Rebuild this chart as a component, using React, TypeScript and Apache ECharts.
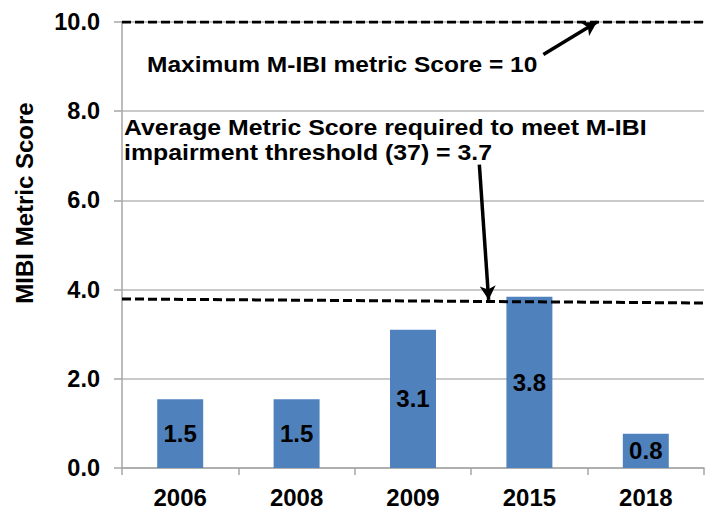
import React, { useEffect, useRef } from "react";
import * as echarts from "echarts";

const years = ["2006", "2008", "2009", "2015", "2018"];
const scores = [1.54, 1.54, 3.1, 3.84, 0.77];
const yTicks = { min: 0, max: 10, interval: 2 };
// reference lines in [x (0..5 across plot), y] data space
const maxLine = [[0, 10], [5, 10]];
const thresholdLine = [[0, 3.79], [5, 3.7]];
const arrowMax = [[3.62, 9.27], [4.08, 10.0]];
const arrowThreshold = [[3.07, 6.8], [3.15, 3.77]];
const maxText = "Maximum M-IBI metric Score = 10";
const thresholdLine1 = "Average Metric Score required to meet M-IBI";
const thresholdLine2 = "impairment threshold (37) = 3.7";
const yName = "MIBI Metric Score";

const FONT = "'Liberation Sans', Arial, sans-serif";

export default function App() {
  const ref = useRef<HTMLDivElement>(null);
  useEffect(() => {
    if (!ref.current) return;
    const chart = echarts.init(ref.current, null, { renderer: "svg" });
    const dashed = { color: "#000", width: 3, type: [9, 4] as any };
    const txt = (text: string, x: number, y: number, size: number, scaleX = 1) => ({
      type: "text",
      x,
      y,
      scaleX,
      style: {
        text,
        fill: "#000",
        font: `bold ${size}px ${FONT}`,
        align: "left",
        verticalAlign: "middle",
      },
    });
    chart.setOption({
      animation: false,
      backgroundColor: "#fff",
      grid: { left: 122, right: 5, top: 22, bottom: 42, containLabel: false },
      xAxis: [
        {
          type: "category",
          data: years,
          axisLine: { lineStyle: { color: "#A6A6A6", width: 1.5 } },
          axisTick: { show: true, length: 7, lineStyle: { color: "#A6A6A6", width: 1.5 } },
          axisLabel: { color: "#000", fontFamily: FONT, fontWeight: "bold", fontSize: 24, margin: 17 },
        },
        { type: "value", min: 0, max: 5, show: false },
      ],
      yAxis: {
        type: "value",
        min: yTicks.min,
        max: yTicks.max,
        interval: yTicks.interval,
        axisLine: { show: true, lineStyle: { color: "#A6A6A6", width: 1.5 } },
        axisTick: { show: true, length: 8, inside: false, lineStyle: { color: "#A6A6A6", width: 1.5 } },
        splitLine: { lineStyle: { color: "#B8B8B8", width: 1.5 } },
        axisLabel: {
          color: "#000",
          fontFamily: FONT,
          fontWeight: "bold",
          fontSize: 23.5,
          margin: 22,
          formatter: (v: number) => v.toFixed(1),
        },
      },
      series: [
        {
          type: "bar",
          data: scores,
          barWidth: "39.5%",
          itemStyle: { color: "#4F81BD" },
          label: {
            show: true,
            position: "inside",
            color: "#000",
            fontFamily: FONT,
            fontWeight: "bold",
            fontSize: 24,
            formatter: (p: any) => Number(p.value).toFixed(1),
          },
        },
        {
          type: "line",
          xAxisIndex: 1,
          data: maxLine,
          symbol: "none",
          lineStyle: dashed,
          silent: true,
          z: 5,
        },
        {
          type: "line",
          xAxisIndex: 1,
          data: thresholdLine,
          symbol: "none",
          lineStyle: dashed,
          silent: true,
          z: 5,
          markLine: {
            silent: true,
            symbol: ["none", "arrow"],
            symbolSize: [12, 14],
            label: { show: false },
            lineStyle: { color: "#000", width: 3.5, type: "solid" },
            data: [
              [{ coord: arrowMax[0] }, { coord: arrowMax[1] }],
              [{ coord: arrowThreshold[0] }, { coord: arrowThreshold[1] }],
            ],
          },
        },
      ],
      graphic: [
        {
          type: "text",
          x: 24,
          y: 203,
          rotation: Math.PI / 2,
          style: {
            text: yName,
            fill: "#000",
            font: `bold 24px ${FONT}`,
            align: "center",
            verticalAlign: "middle",
          },
        },
        txt(maxText, 147, 64, 22, 1.115),
        txt(thresholdLine1, 124, 128, 22, 1.13),
        txt(thresholdLine2, 124, 153, 22, 1.13),
      ],
    });
    return () => chart.dispose();
  }, []);
  return <div ref={ref} style={{ width: 709, height: 510, position: "absolute", left: 0, top: 0 }} />;
}
